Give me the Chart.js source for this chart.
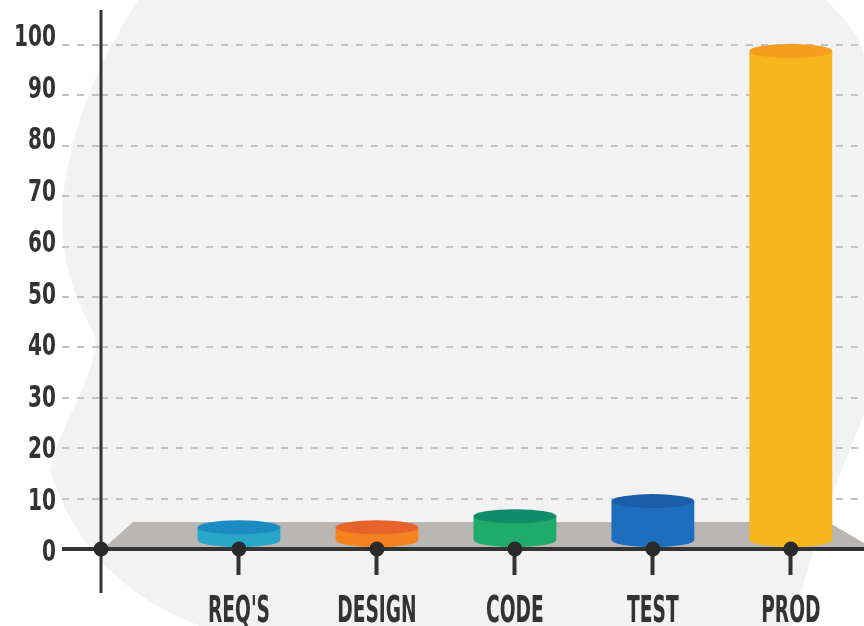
<!DOCTYPE html>
<html>
<head>
<meta charset="utf-8">
<script src="https://cdn.jsdelivr.net/npm/chart.js@4.4.1/dist/chart.umd.min.js"></script>
<style>
    html, body { margin: 0; padding: 0; background: #fff; }
    canvas { display: block; }
</style>
</head>
<body>
<canvas id="costChart" width="864" height="626"></canvas>
<script>
// ============================================
// DATA
// ============================================
const categories = ["REQ'S", 'DESIGN', 'CODE', 'TEST', 'PROD']
const values     = [4.3, 4.3, 6.5, 9.5, 98.8]
const yTicks     = [0, 10, 20, 30, 40, 50, 60, 70, 80, 90, 100]

// cylinder body / lid colours
const bodyColors = ['#29a7c9', '#f5821f', '#1fab6a', '#1e6ebf', '#f7b51e']
const lidColors  = ['#1a8cc3', '#e8632a', '#0f8c69', '#1b5ea8', '#f49d1e']

const FONT = '"Liberation Sans Narrow", "DejaVu Sans Condensed", sans-serif'
const INK  = '#333333'
const LID_RY = 7

// ============================================
// PLUGINS
// ============================================
const backdrop = {
    id: 'backdrop',
    beforeDraw(chart) {
        const { ctx, width, height } = chart
        ctx.save()
        ctx.fillStyle = '#ffffff'
        ctx.fillRect(0, 0, width, height)
        // soft grey blob behind the plot
        ctx.fillStyle = '#f2f2f2'
        ctx.beginPath()
        ctx.moveTo(138, 0)
        ctx.lineTo(826, 0)
        ctx.bezierCurveTo(846, 20, 864, 40, 864, 60)
        ctx.lineTo(864, 415)
        ctx.bezierCurveTo(840, 470, 808, 560, 792, 626)
        ctx.lineTo(200, 626)
        ctx.bezierCurveTo(130, 600, 75, 550, 50, 470)
        ctx.bezierCurveTo(62, 420, 100, 370, 95, 335)
        ctx.bezierCurveTo(70, 290, 60, 250, 62, 205)
        ctx.bezierCurveTo(72, 120, 100, 60, 138, 0)
        ctx.closePath()
        ctx.fill()
        ctx.restore()
    }
}

function cylinderGeom(bar) {
    const p = bar.getProps(['x', 'y', 'base', 'width'], true)
    return { x: p.x, top: p.y, bottom: p.base - LID_RY - 1, rx: p.width / 2 }
}

// draw condensed text (the poster font is very narrow)
function narrowText(ctx, text, x, y, squeeze) {
    ctx.save()
    ctx.translate(x, y)
    ctx.scale(squeeze, 1)
    ctx.fillText(text, 0, 0)
    ctx.restore()
}

const cylinders = {
    id: 'cylinders',
    beforeDatasetsDraw(chart) {
        const { ctx, chartArea } = chart
        const b = chartArea.bottom
        // grey floor the cylinders stand on
        ctx.save()
        ctx.fillStyle = '#b9b6b4'
        ctx.beginPath()
        ctx.moveTo(chartArea.left + 3, b - 1)
        ctx.lineTo(chartArea.left + 32, b - 27)
        ctx.lineTo(chartArea.right - 36, b - 27)
        ctx.lineTo(chartArea.right, b - 6)
        ctx.lineTo(chartArea.right, b - 1)
        ctx.closePath()
        ctx.fill()
        ctx.restore()
    },
    beforeDatasetDraw(chart, args) {
        const { ctx } = chart
        ctx.save()
        ctx.beginPath()
        args.meta.data.forEach(bar => {
            const g = cylinderGeom(bar)
            ctx.rect(g.x - g.rx, g.top, g.rx * 2, g.bottom - g.top)
            ctx.moveTo(g.x + g.rx, g.bottom)
            ctx.ellipse(g.x, g.bottom, g.rx, LID_RY, 0, 0, Math.PI * 2)
        })
        ctx.clip()
    },
    afterDatasetDraw(chart, args) {
        const { ctx } = chart
        ctx.restore()
        ctx.save()
        args.meta.data.forEach((bar, i) => {
            const g = cylinderGeom(bar)
            ctx.fillStyle = lidColors[i]
            ctx.beginPath()
            ctx.ellipse(g.x, g.top, g.rx, LID_RY, 0, 0, Math.PI * 2)
            ctx.fill()
        })
        ctx.restore()
    },
    afterDatasetsDraw(chart) {
        const { ctx, chartArea, scales } = chart
        const y0 = scales.y.getPixelForValue(0)
        ctx.save()
        // axes
        ctx.strokeStyle = INK
        ctx.lineWidth = 4
        ctx.beginPath()
        ctx.moveTo(62, y0)
        ctx.lineTo(chartArea.right, y0)
        ctx.stroke()
        ctx.lineWidth = 3
        ctx.beginPath()
        ctx.moveTo(chartArea.left, 10)
        ctx.lineTo(chartArea.left, 593)
        ctx.stroke()
        // dots on the axis
        ctx.fillStyle = '#2a2a2a'
        const xs = [chartArea.left].concat(categories.map((_, i) => scales.x.getPixelForValue(i + 1)))
        xs.forEach(x => {
            ctx.beginPath()
            ctx.arc(x, y0, 7.5, 0, Math.PI * 2)
            ctx.fill()
        })
        ctx.restore()
    },
    afterDraw(chart) {
        const { ctx, scales } = chart
        ctx.save()
        ctx.fillStyle = INK
        ctx.textBaseline = 'alphabetic'

        // category labels
        ctx.font = `bold 37px ${FONT}`
        ctx.textAlign = 'center'
        categories.forEach((label, i) => {
            narrowText(ctx, label, scales.x.getPixelForValue(i + 1), 622, 0.56)
        })

        // value labels, right aligned left of the dashes
        ctx.font = `bold 31px ${FONT}`
        ctx.textAlign = 'right'
        ctx.textBaseline = 'middle'
        yTicks.forEach(v => {
            const y = scales.y.getPixelForValue(v) + 3 - 0.11 * v
            narrowText(ctx, String(v), 56, y + 1, 0.72)
        })
        ctx.restore()
    }
}

// ============================================
// CHART
// ============================================
function init() {
    const ctx = document.getElementById('costChart').getContext('2d')

    new Chart(ctx, {
        type: 'bar',
        data: {
            datasets: [{
                data: values.map((v, i) => ({ x: i + 1, y: v })),
                backgroundColor: bodyColors,
                borderWidth: 0,
                barThickness: 83
            }]
        },
        options: {
            responsive: false,
            animation: false,
            layout: { padding: { top: 45, left: 0, right: 0, bottom: 0 } },
            plugins: {
                legend: { display: false },
                tooltip: { enabled: false }
            },
            scales: {
                x: {
                    type: 'linear',
                    min: 0,
                    max: 5.53,
                    offset: false,
                    afterBuildTicks: s => { s.ticks = categories.map((_, i) => ({ value: i + 1 })) },
                    afterFit: s => { s.height = 77 },
                    ticks: { display: false },
                    border: { display: false },
                    grid: {
                        offset: false,
                        drawOnChartArea: false,
                        tickLength: 26,
                        tickWidth: 4,
                        tickColor: INK
                    }
                },
                y: {
                    min: 0,
                    max: 100,
                    afterBuildTicks: s => { s.ticks = yTicks.map(v => ({ value: v })) },
                    afterFit: s => { s.width = 101 },
                    ticks: { display: false },
                    border: { display: false, dash: [7, 8] },
                    grid: {
                        color: c => c.tick && c.tick.value === 0 ? 'rgba(0,0,0,0)' : '#c2c2c2',
                        lineWidth: 2,
                        tickLength: 39,
                        tickBorderDash: [7, 8]
                    }
                }
            }
        },
        plugins: [backdrop, cylinders]
    })
}

document.addEventListener('DOMContentLoaded', init)
</script>
</body>
</html>
